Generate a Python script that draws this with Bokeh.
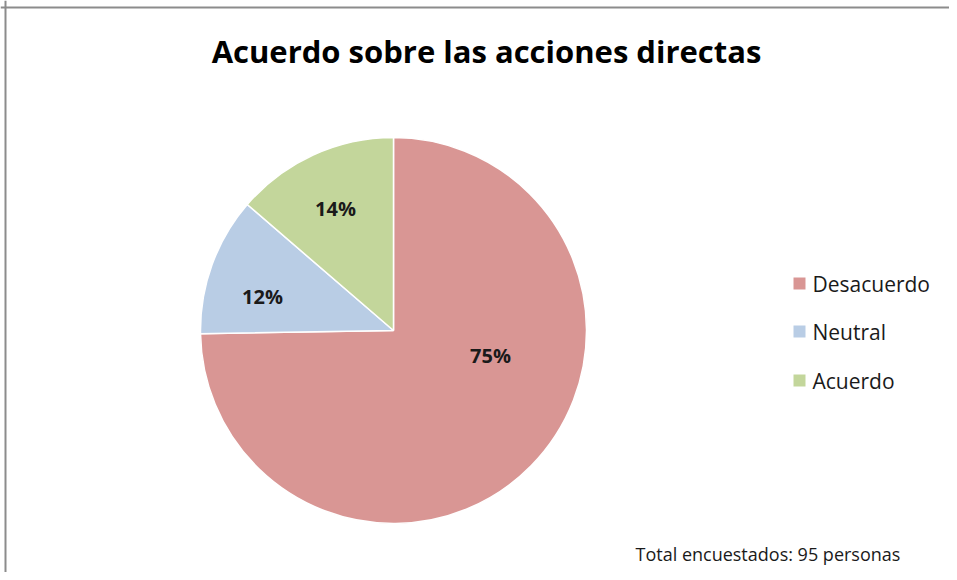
import math
from bokeh.plotting import figure
from bokeh.models import ColumnDataSource, Range1d, Span
from bokeh.core.properties import value
from bokeh.embed import file_html
from bokeh.resources import INLINE

# ---- data ----
categories = ["Desacuerdo", "Neutral", "Acuerdo"]
counts = [71, 11, 13]
colors = ["#D99694", "#B9CDE5", "#C3D69B"]
title_text = "Acuerdo sobre las acciones directas"
footer_text = "Total encuestados: 95 personas"

W, H = 949, 572
FONT = "Open Sans"

p = figure(width=W, height=H, output_backend="svg", toolbar_location=None,
           x_range=Range1d(0, W), y_range=Range1d(0, H), min_border=0)
p.axis.visible = False
p.grid.visible = False
p.outline_line_color = None
p.background_fill_color = "white"
p.border_fill_color = "white"

# frame lines (top and left, like the cropped chart area border)
p.add_layout(Span(location=5, dimension="height", line_color="#8c8c8c", line_width=2))
p.add_layout(Span(location=H - 7, dimension="width", line_color="#8c8c8c", line_width=2))

total = sum(counts)
cx, cy, r = 393, H - 330, 193
starts, ends = [], []
cum = 0.0
for c in counts:
    f0 = cum / total
    cum += c
    f1 = cum / total
    starts.append(math.pi / 2 - f0 * 2 * math.pi)
    ends.append(math.pi / 2 - f1 * 2 * math.pi)

pct = [f"{round(100 * c / total)}%" for c in counts]

src = ColumnDataSource(dict(x=[cx] * 3, y=[cy] * 3, start=starts, end=ends,
                            color=colors, cat=categories))
p.wedge(x="x", y="y", radius=r, start_angle="start", end_angle="end",
        direction="clock", fill_color="color", line_color="white", line_width=1.5,
        source=src)

# data label offsets from the pie centre (layout, in pixels)
label_dx = [97, -131, -58]
label_dy = [-25, 34, 122]
lx = [cx + d for d in label_dx]
ly = [cy + d for d in label_dy]
p.text(x=lx, y=ly, text=pct, text_font=value(FONT), text_font_style="bold",
       text_font_size="20px", text_align="center", text_baseline="middle",
       text_color="#1a1a1a")

# title
p.text(x=[486], y=[H - 50], text=[title_text], text_font=value(FONT),
       text_font_style="bold", text_font_size="31px", text_align="center",
       text_baseline="middle", text_color="black")

# legend
leg_y = [H - 283, H - 331, H - 380]
p.rect(x=[799] * 3, y=leg_y, width=12, height=12, fill_color=colors, line_color=None)
p.text(x=[812] * 3, y=leg_y, text=categories, text_font=value(FONT),
       text_font_size="21px", text_align="left", text_baseline="middle",
       text_color="#1a1a1a")

# footer
p.text(x=[635], y=[H - 553], text=[footer_text], text_font=value(FONT),
       text_font_size="18px", text_align="left", text_baseline="middle",
       text_color="#1a1a1a")

open("out.html", "w").write(file_html(p, INLINE))
